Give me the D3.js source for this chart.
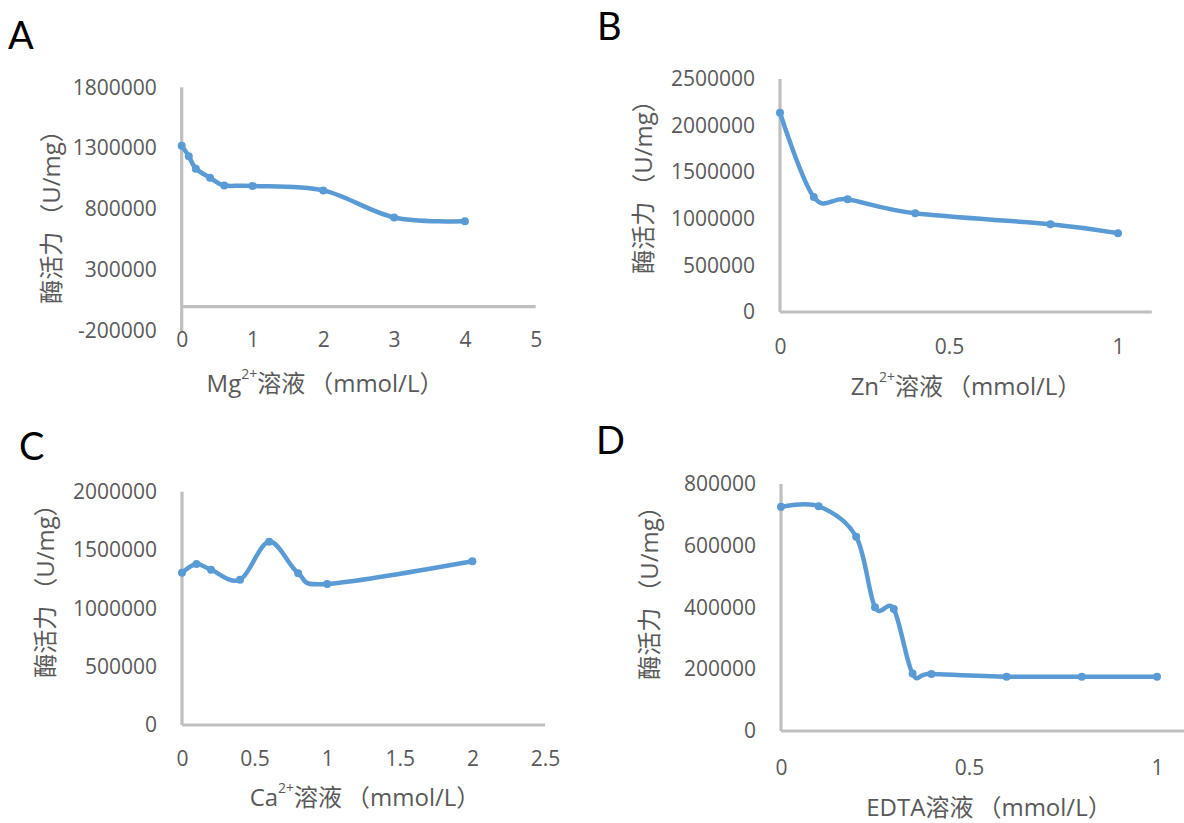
<!DOCTYPE html>
<html>
<head>
<meta charset="utf-8">
<script src="https://cdn.jsdelivr.net/npm/d3@7"></script>
<style>
  html, body { margin: 0; padding: 0; background: #fff; }
  svg { display: block; font-family: "Open Sans", "Noto Sans CJK SC", sans-serif; }
</style>
</head>
<body>
<svg id="fig" width="1184" height="823"></svg>
<script>
// ---- data: enzyme activity (U/mg) vs. concentration (mmol/L) ----
const mgConc = [0, 0.1, 0.2, 0.4, 0.6, 1, 2, 3, 4];
const mgActivity = [1320000, 1235000, 1132000, 1058000, 995000, 991000, 954000, 732000, 700000];

const znConc = [0, 0.1, 0.2, 0.4, 0.8, 1];
const znActivity = [2138000, 1233000, 1209000, 1059000, 942000, 846000];

const caConc = [0, 0.1, 0.2, 0.4, 0.6, 0.8, 1, 2];
const caActivity = [1306000, 1381000, 1331000, 1245000, 1572000, 1301000, 1209000, 1404000];

const edtaConc = [0, 0.1, 0.2, 0.25, 0.3, 0.35, 0.4, 0.6, 0.8, 1];
const edtaActivity = [726000, 728000, 629000, 401000, 395000, 186000, 185000, 176000, 176000, 176000];

// ---- axis ticks ----
const mgYTicks = [-200000, 300000, 800000, 1300000, 1800000];
const mgXTicks = [0, 1, 2, 3, 4, 5];
const znYTicks = [0, 500000, 1000000, 1500000, 2000000, 2500000];
const znXTicks = [0, 0.5, 1];
const caYTicks = [0, 500000, 1000000, 1500000, 2000000];
const caXTicks = [0, 0.5, 1, 1.5, 2, 2.5];
const edtaYTicks = [0, 200000, 400000, 600000, 800000];
const edtaXTicks = [0, 0.5, 1];

const yTitleMain = "酶活力";
const yTitleUnit = "（U/mg）";
const xTitleSolution = "溶液";
const xTitleUnit = "（mmol/L）";

const panels = [
  { letter: "A", letterX: 8, letterY: 49, ion: "Mg", sup: "2+",
    xs: mgConc, ys: mgActivity, xTicks: mgXTicks, yTicks: mgYTicks,
    xDomain: [0, 5], yDomain: [-200000, 1800000],
    xRange: [181.7, 535.7], yRange: [331, 87.3],
    xLabelY: 332, titleX: 325, titleY: 382, yTitleX: 50, yTitleY: 211 },
  { letter: "B", letterX: 597, letterY: 40, ion: "Zn", sup: "2+",
    xs: znConc, ys: znActivity, xTicks: znXTicks, yTicks: znYTicks,
    xDomain: [0, 1.1], yDomain: [0, 2500000],
    xRange: [780, 1151.8], yRange: [312, 79],
    xLabelY: 339, titleX: 966, titleY: 385, yTitleX: 642, yTitleY: 181 },
  { letter: "C", letterX: 19, letterY: 460, ion: "Ca", sup: "2+",
    xs: caConc, ys: caActivity, xTicks: caXTicks, yTicks: caYTicks,
    xDomain: [0, 2.5], yDomain: [0, 2000000],
    xRange: [182, 545], yRange: [725, 491.7],
    xLabelY: 751, titleX: 365, titleY: 796, yTitleX: 44, yTitleY: 585 },
  { letter: "D", letterX: 596, letterY: 454, ion: "EDTA", sup: "",
    xs: edtaConc, ys: edtaActivity, xTicks: edtaXTicks, yTicks: edtaYTicks,
    xDomain: [0, 1.1], yDomain: [0, 800000],
    xRange: [781, 1194.6], yRange: [731, 484],
    xLabelY: 760, titleX: 989, titleY: 806, yTitleX: 648, yTitleY: 587 }
];

const svg = d3.select("#fig");
const textColor = "#595959";
const axisColor = "#bfbfbf";
const lineColor = "#5b9bd5";

panels.forEach(p => {
  const g = svg.append("g");
  const x = d3.scaleLinear().domain(p.xDomain).range(p.xRange);
  const y = d3.scaleLinear().domain(p.yDomain).range(p.yRange);

  // panel letter
  g.append("text")
    .attr("x", p.letterX).attr("y", p.letterY)
    .attr("font-family", "Lato, 'Open Sans', sans-serif")
    .attr("font-size", 38).attr("fill", "#000")
    .text(p.letter);

  // axis lines
  g.append("line")
    .attr("x1", x(0)).attr("x2", x(0))
    .attr("y1", y(p.yDomain[1])).attr("y2", y(p.yDomain[0]))
    .attr("stroke", axisColor).attr("stroke-width", 3.2);
  g.append("line")
    .attr("x1", x(0)).attr("x2", x(p.xDomain[1]))
    .attr("y1", y(0)).attr("y2", y(0))
    .attr("stroke", axisColor).attr("stroke-width", 3.2);

  // y tick labels
  const yAxis = g.append("g")
    .attr("transform", `translate(${x(0)},0)`)
    .call(d3.axisLeft(y).tickValues(p.yTicks).tickSize(0).tickPadding(25)
      .tickFormat(d => String(d)));
  yAxis.select(".domain").remove();
  yAxis.selectAll("text").attr("font-size", 21).attr("fill", textColor)
    .attr("font-family", "'Open Sans', sans-serif");

  // x tick labels
  const xAxis = g.append("g")
    .attr("transform", `translate(0,${p.xLabelY})`)
    .call(d3.axisBottom(x).tickValues(p.xTicks).tickSize(0).tickPadding(0)
      .tickFormat(d => String(d)));
  xAxis.select(".domain").remove();
  xAxis.selectAll("text").attr("font-size", 21).attr("fill", textColor)
    .attr("font-family", "'Open Sans', sans-serif");

  // x axis title
  const xt = g.append("text")
    .attr("x", p.titleX).attr("y", p.titleY)
    .attr("text-anchor", "middle").attr("dominant-baseline", "central")
    .attr("font-size", 24).attr("fill", textColor);
  xt.append("tspan").text(p.ion);
  if (p.sup) {
    xt.append("tspan").attr("font-size", 14).attr("dy", -9).text(p.sup);
    xt.append("tspan").attr("dy", 9).text(xTitleSolution);
  } else {
    xt.append("tspan").text(xTitleSolution);
  }
  xt.append("tspan").attr("dx", 4).text(xTitleUnit);

  // y axis title
  const yt = g.append("text")
    .attr("transform", `translate(${p.yTitleX},${p.yTitleY}) rotate(-90)`)
    .attr("text-anchor", "middle").attr("dominant-baseline", "central")
    .attr("font-size", 24).attr("fill", textColor);
  yt.append("tspan").text(yTitleMain);
  yt.append("tspan").attr("dx", 4).text(yTitleUnit);

  // smoothed series line with markers
  const pts = p.xs.map((v, i) => [v, p.ys[i]]);
  const line = d3.line()
    .x(d => x(d[0])).y(d => y(d[1]))
    .curve(d3.curveCatmullRom.alpha(0));
  g.append("path").datum(pts)
    .attr("d", line)
    .attr("fill", "none").attr("stroke", lineColor)
    .attr("stroke-width", 4.5).attr("stroke-linejoin", "round").attr("stroke-linecap", "round");
  g.selectAll("circle.pt").data(pts).join("circle")
    .attr("class", "pt")
    .attr("cx", d => x(d[0])).attr("cy", d => y(d[1]))
    .attr("r", 4).attr("fill", lineColor);
});
</script>
</body>
</html>
